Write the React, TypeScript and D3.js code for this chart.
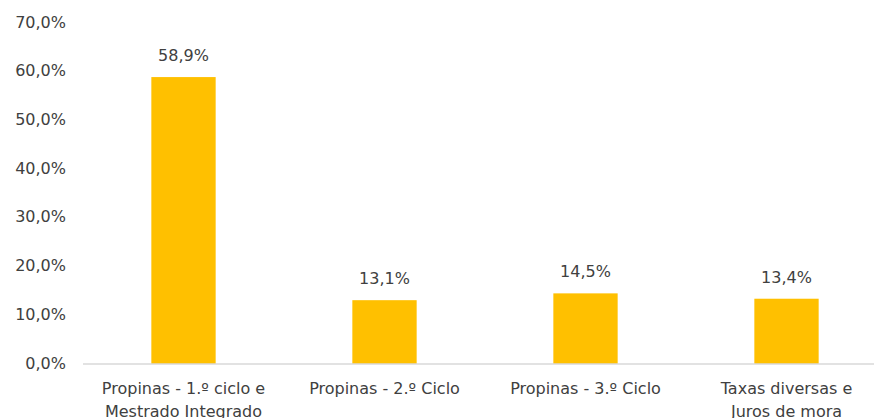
import React from 'react';
import * as d3 from 'd3';

const categories = [
  ['Propinas - 1.º ciclo e', 'Mestrado Integrado'],
  ['Propinas - 2.º Ciclo'],
  ['Propinas - 3.º Ciclo'],
  ['Taxas diversas e', 'Juros de mora'],
];
const values = [58.9, 13.1, 14.5, 13.4];
const yTicks = [0, 10, 20, 30, 40, 50, 60, 70];

const width = 874;
const height = 418;
const margin = {top: 23, right: -13, bottom: 54, left: 83};
const font = "'DejaVu Sans', sans-serif";
const fmt = (v: number) => v.toFixed(1).replace('.', ',') + '%';

export default function App() {
  const x = d3
    .scaleBand<number>()
    .domain(d3.range(values.length))
    .range([margin.left, width - margin.right])
    .paddingInner(0.68)
    .paddingOuter(0.34);
  const y = d3
    .scaleLinear()
    .domain([0, 70])
    .range([height - margin.bottom, margin.top]);

  return (
    <svg
      width={width}
      height={height}
      style={{position: 'absolute', left: 0, top: 0, background: '#fff'}}>
      {yTicks.map(t => (
        <text
          key={t}
          x={66}
          y={y(t) - 1}
          dy={'0.35em'}
          textAnchor={'end'}
          fontFamily={font}
          fontSize={16}
          fill={'#404040'}>
          {fmt(t)}
        </text>
      ))}
      {values.map((v, i) => (
        <g key={i}>
          <rect
            x={x(i)}
            y={y(v)}
            width={x.bandwidth()}
            height={y(0) - y(v)}
            fill={'#FFC000'}
          />
          <text
            x={x(i)! + x.bandwidth() / 2}
            y={y(v) - 16}
            textAnchor={'middle'}
            fontFamily={font}
            fontSize={16}
            fill={'#404040'}>
            {fmt(v)}
          </text>
          {categories[i].map((line, j) => (
            <text
              key={j}
              x={x(i)! + x.bandwidth() / 2}
              y={y(0) + 30 + j * 23}
              textAnchor={'middle'}
              fontFamily={font}
              fontSize={16}
              fill={'#404040'}>
              {line}
            </text>
          ))}
        </g>
      ))}
      <line
        x1={margin.left}
        x2={width}
        y1={y(0)}
        y2={y(0)}
        stroke={'#d9d9d9'}
        strokeWidth={1.5}
      />
    </svg>
  );
}
